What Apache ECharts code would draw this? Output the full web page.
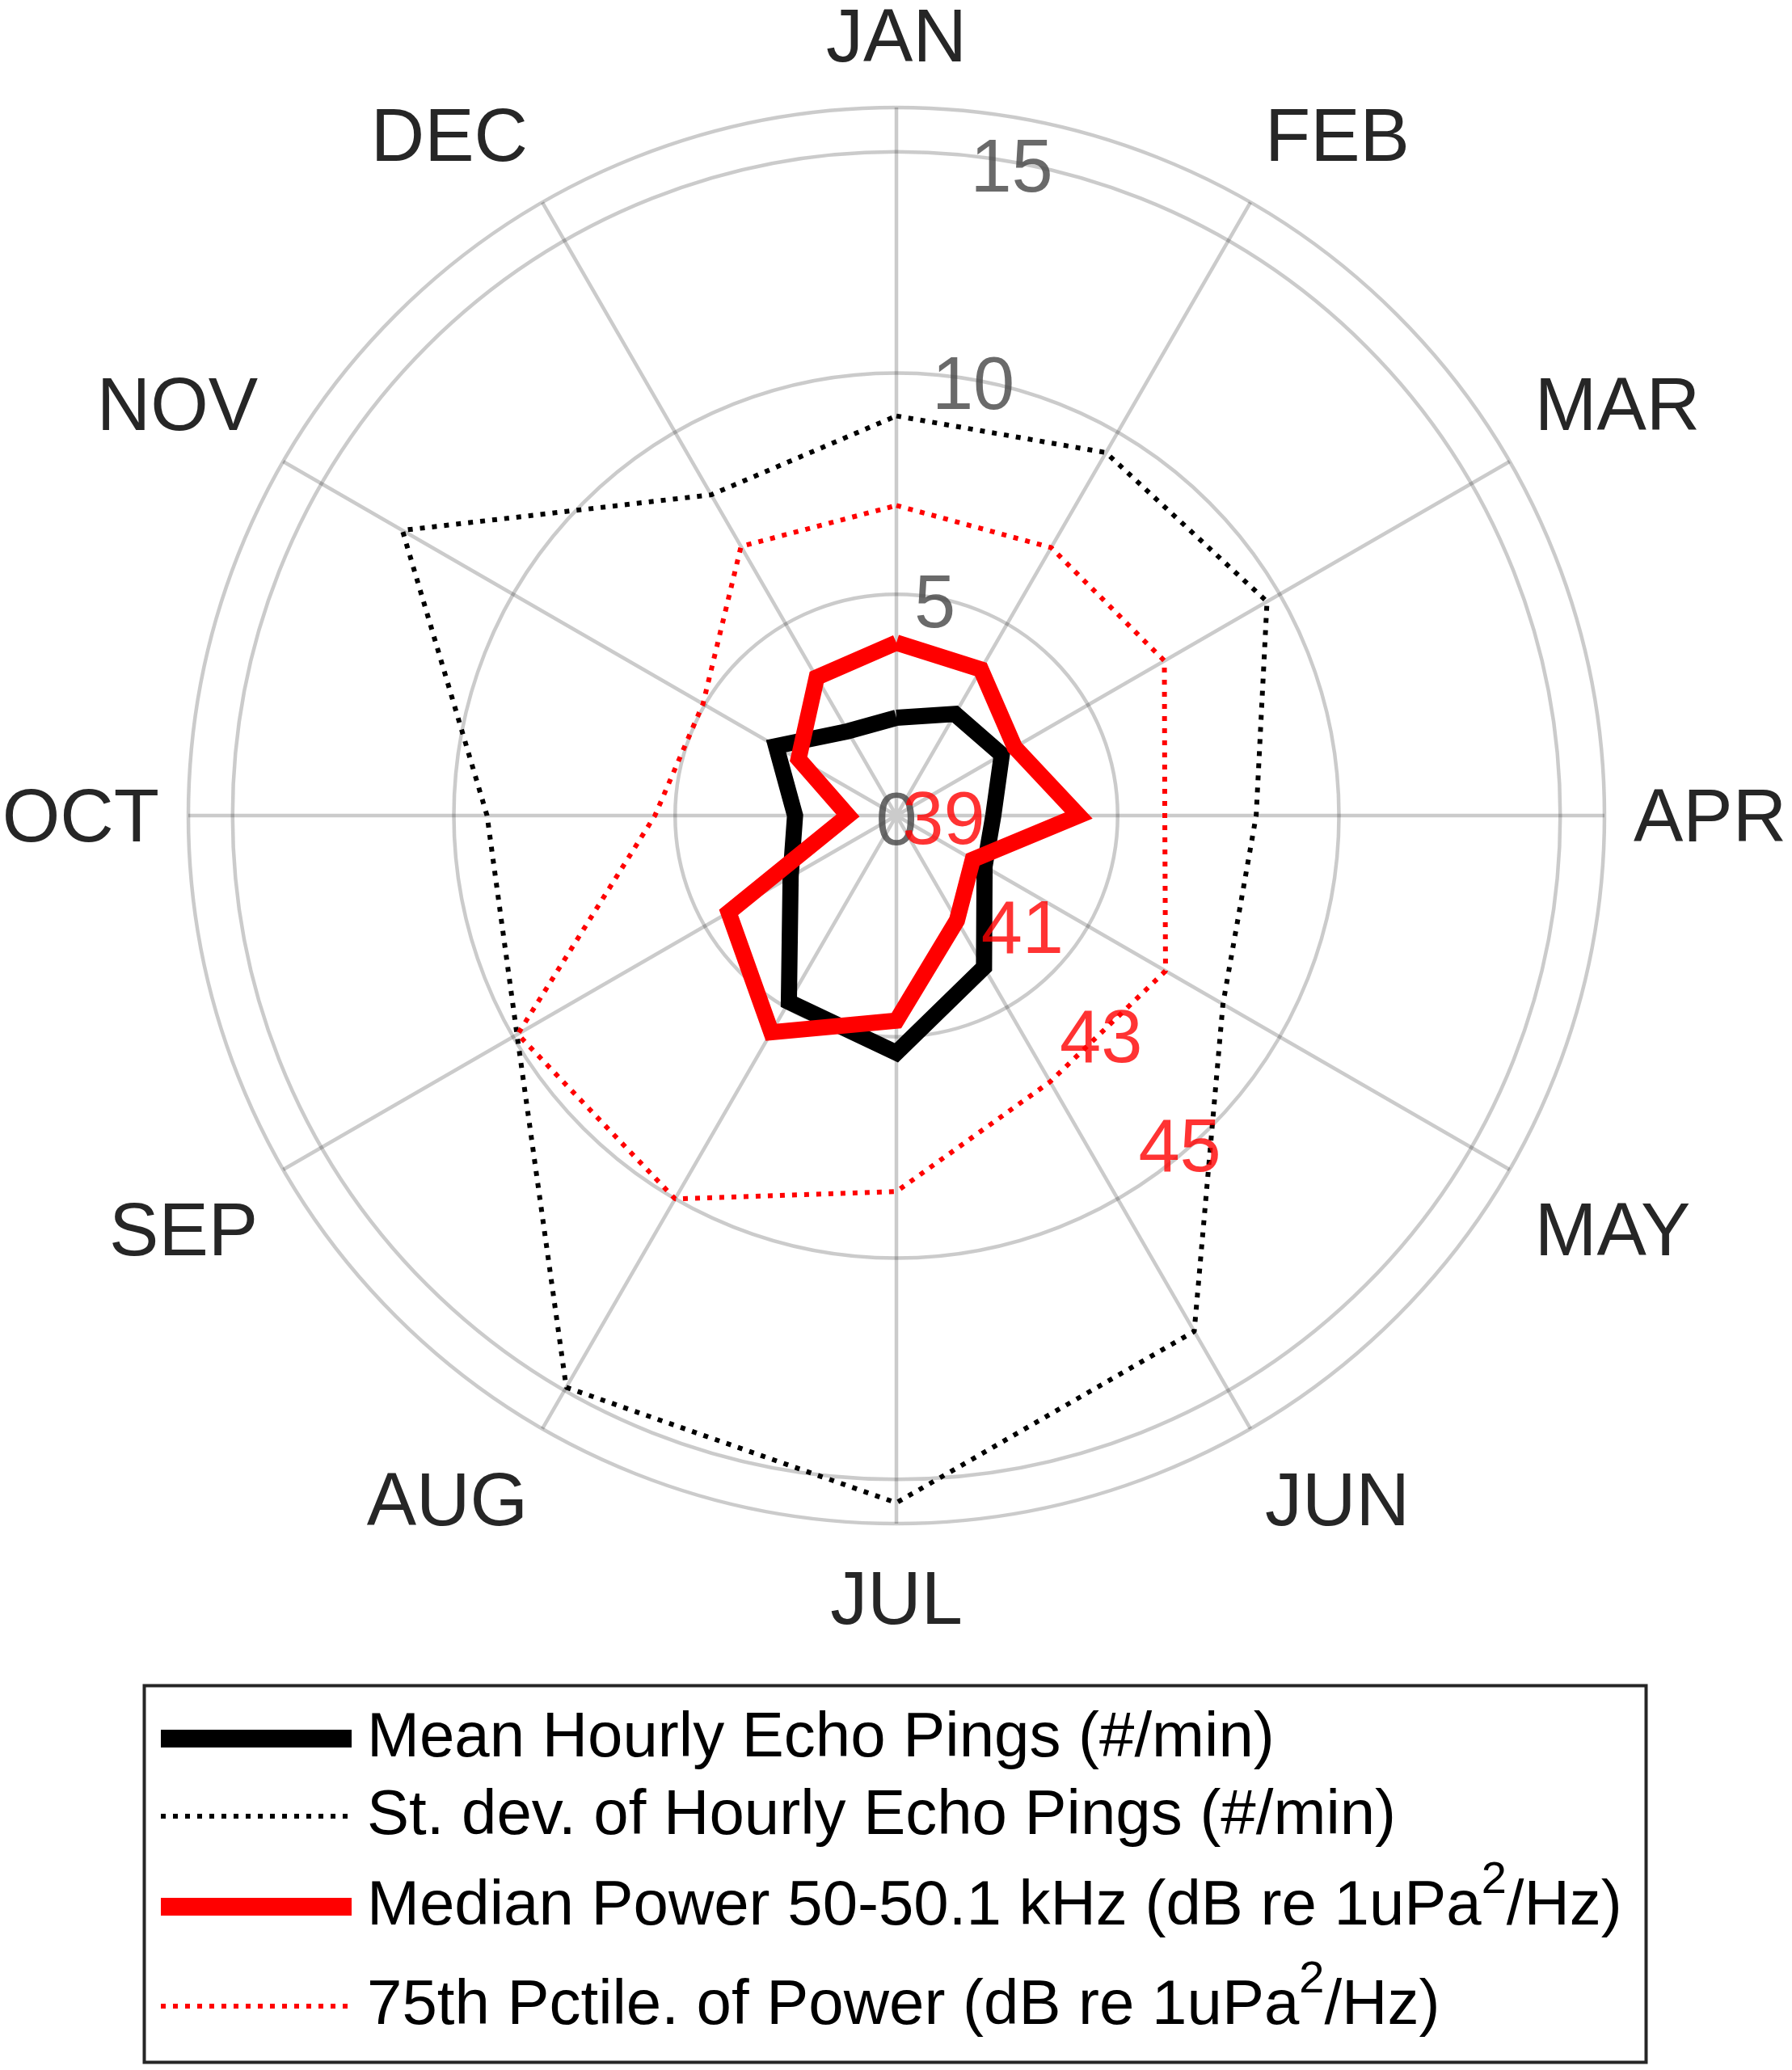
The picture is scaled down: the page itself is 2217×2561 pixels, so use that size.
<!DOCTYPE html>
<html>
<head>
<meta charset="utf-8">
<script src="https://cdn.jsdelivr.net/npm/echarts@6/dist/echarts.min.js"></script>
<style>
html,body{margin:0;padding:0;background:#ffffff;}
#chart{width:2217px;height:2561px;}
</style>
</head>
<body>
<div id="chart"></div>
<script>
// ---------------- data ----------------
const months = ['JAN','FEB','MAR','APR','MAY','JUN','JUL','AUG','SEP','OCT','NOV','DEC'];
// Mean hourly echo pings (#/min)
const meanPings = [2.21, 2.65, 2.75, 2.19, 2.30, 3.96, 5.36, 4.86, 2.76, 2.29, 3.14, 2.20];
// St. dev. of hourly echo pings (#/min)
const sdPings = [9.03, 9.47, 9.67, 8.13, 8.52, 13.46, 15.53, 14.92, 9.90, 9.25, 12.89, 8.37];
// Median power 50-50.1 kHz (dB re 1uPa^2/Hz)
const medianPowerDb = [41.42, 41.36, 40.88, 41.56, 40.16, 40.65, 41.90, 42.57, 41.73, 39.57, 40.53, 41.22];
// 75th percentile of power (dB re 1uPa^2/Hz)
const p75PowerDb = [43.46, 43.45, 43.45, 42.84, 43.47, 43.42, 44.44, 45.43, 45.35, 42.44, 42.17, 43.47];
// tick labels
const radiusTicks = [0, 5, 10, 15];
const powerTicks = [39, 41, 43, 45];
const seriesNames = [
  'Mean Hourly Echo Pings (#/min)',
  'St. dev. of Hourly Echo Pings (#/min)',
  'Median Power 50-50.1 kHz (dB re 1uPa\u00b2/Hz)',
  '75th Pctile. of Power (dB re 1uPa\u00b2/Hz)'
];

// dB -> radial units of the shared polar axis (red scale)
const DB_BASE = 38.85, DB_TO_R = 1.52;
const dbToR = d => (d - DB_BASE) * DB_TO_R;

// ---------------- styling / layout ----------------
const FONT = "'Liberation Sans', Arial, Helvetica, sans-serif";
const GRID = 'rgba(38,38,38,0.24)';
const R_LABEL_ANGLE = 10;
const P_LABEL_ANGLE = 144.2;
const legendRowTops = [2103, 2199, 2299, 2422];
const legendLineWidths = [22, 6, 22, 6];
const legendIconLeft = 199;

function loop(vals) {
  const pts = vals.map((v, i) => [v, i * 30]);
  pts.push([vals[0], 360]);
  return pts;
}

const chart = echarts.init(document.getElementById('chart'), null, {renderer: 'canvas'});

function legendFmt(name) {
  const parts = name.split('\u00b2');
  if (parts.length === 1) return '{a|' + name + '}';
  return '{a|' + parts[0] + '}{s|2}{b|' + parts[1] + '}';
}
const legendRich = {
  a: {fontSize: 78, fontFamily: FONT, color: '#000', lineHeight: 120, padding: [0, 0, 0, 14]},
  b: {fontSize: 78, fontFamily: FONT, color: '#000', lineHeight: 120},
  s: {fontSize: 56, fontFamily: FONT, color: '#000', lineHeight: 62, verticalAlign: 'top'}
};

// month labels in the lower half sit a bit lower (centred like the original)
function monthFmt(v) {
  const i = Math.round(v / 30);
  if (i >= 12) return '';
  if (i === 3 || i === 9) return '{m|' + months[i] + '}';
  if (i >= 4 && i <= 8) return '{l|' + months[i] + '}';
  return '{u|' + months[i] + '}';
}
const monthRich = {
  u: {fontSize: 92, fontFamily: FONT, color: '#262626'},
  m: {fontSize: 92, fontFamily: FONT, color: '#262626', padding: [14, 0, 0, 0]},
  l: {fontSize: 92, fontFamily: FONT, color: '#262626', padding: [17, 0, 0, 0]}
};

const option = {
  animation: false,
  backgroundColor: '#ffffff',
  polar: {center: [1109, 1009], radius: [0, 876]},
  angleAxis: {
    type: 'value', min: 0, max: 360, interval: 30,
    startAngle: 90, clockwise: true,
    axisLine: {show: false},
    axisTick: {show: false},
    axisLabel: {
      show: true, margin: 36, fontSize: 92, fontFamily: FONT, color: '#262626',
      formatter: monthFmt, rich: monthRich
    },
    splitLine: {show: true, lineStyle: {color: GRID, width: 4.5}}
  },
  radiusAxis: {
    type: 'value', min: 0, max: 16, interval: 5,
    axisLine: {show: false}, axisTick: {show: false}, axisLabel: {show: false},
    splitLine: {show: true, lineStyle: {color: GRID, width: 4.5}}
  },
  legend: seriesNames.map((n, i) => ({
    data: [n], orient: 'vertical',
    left: legendIconLeft - legendLineWidths[i] / 2, top: legendRowTops[i],
    padding: 0, itemWidth: 236, itemHeight: 120, selectedMode: false,
    lineStyle: {width: legendLineWidths[i]},
    itemStyle: {opacity: 0},
    formatter: legendFmt,
    textStyle: {fontSize: 78, fontFamily: FONT, color: '#000', rich: legendRich}
  })),
  graphic: [{
    type: 'rect', left: 176, top: 2083, z: 100,
    shape: {width: 1858, height: 466},
    style: {fill: 'none', stroke: '#262626', lineWidth: 4}
  }],
  series: [
    {
      name: seriesNames[0], type: 'line', coordinateSystem: 'polar',
      data: loop(meanPings), symbol: 'none', z: 3,
      lineStyle: {color: '#000000', width: 20, join: 'miter'}, itemStyle: {color: '#000000'}
    },
    {
      name: seriesNames[1], type: 'line', coordinateSystem: 'polar',
      data: loop(sdPings), symbol: 'none', z: 3,
      lineStyle: {color: '#000000', width: 6, type: [6, 9]}, itemStyle: {color: '#000000'}
    },
    {
      name: seriesNames[2], type: 'line', coordinateSystem: 'polar',
      data: loop(medianPowerDb.map(dbToR)), symbol: 'none', z: 4,
      lineStyle: {color: '#ff0000', width: 20, join: 'miter'}, itemStyle: {color: '#ff0000'}
    },
    {
      name: seriesNames[3], type: 'line', coordinateSystem: 'polar',
      data: loop(p75PowerDb.map(dbToR)), symbol: 'none', z: 4,
      lineStyle: {color: '#ff0000', width: 6, type: [6, 9]}, itemStyle: {color: '#ff0000'}
    },
    {
      name: 'rticks', type: 'scatter', coordinateSystem: 'polar', silent: true, z: 5,
      symbolSize: 0,
      data: radiusTicks.map(t => [t, t === 0 ? 0 : R_LABEL_ANGLE]),
      label: {
        show: true, position: 'inside', offset: [0, 11],
        formatter: p => String(p.value[0]),
        fontSize: 92, fontFamily: FONT, color: '#454545'
      }
    },
    {
      name: 'pticks', type: 'scatter', coordinateSystem: 'polar', silent: true, z: 6,
      symbolSize: 0,
      data: powerTicks.map(d => [dbToR(d), P_LABEL_ANGLE, d]),
      label: {
        show: true, position: 'right', distance: 0, align: 'left', verticalAlign: 'middle',
        formatter: p => String(p.value[2]),
        fontSize: 92, fontFamily: FONT, color: '#ff0000'
      }
    }
  ]
};
chart.setOption(option);
</script>
</body>
</html>
